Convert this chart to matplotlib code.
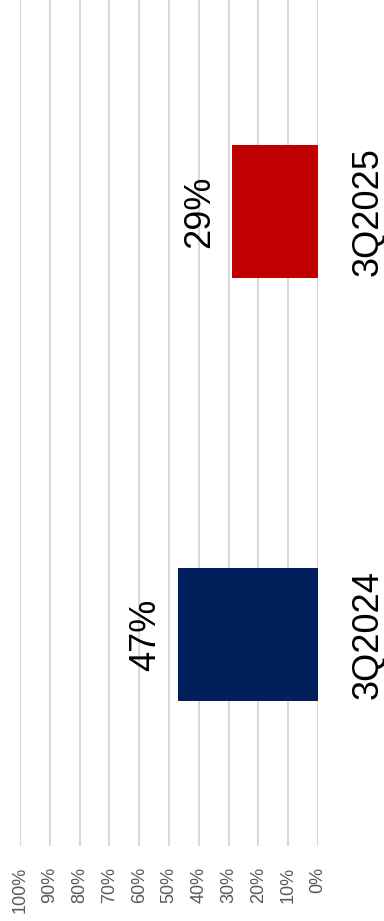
import matplotlib
matplotlib.use("Agg")
import matplotlib.pyplot as plt
import matplotlib.transforms as mtransforms

plt.rcParams['font.family'] = ['Liberation Sans', 'DejaVu Sans']

# quarterly share, drawn as a column chart turned on its side
quarters = ["3Q2024", "3Q2025"]
shares = [47, 29]
bar_colors = ["#001F5B", "#C00000"]
tick_values = [0, 10, 20, 30, 40, 50, 60, 70, 80, 90, 100]
tick_labels = [f"{t}%" for t in tick_values]

fig = plt.figure(figsize=(3.84, 9.21), dpi=100)
ax = fig.add_axes([20 / 384, 75 / 921, 298 / 384, 846 / 921])

pos = list(range(len(quarters)))
ax.barh(pos, shares, height=0.315, color=bar_colors, zorder=3)

ax.set_xlim(100, 0)
ax.set_ylim(-0.5, len(quarters) - 0.5)

ax.set_xticks(tick_values)
ax.set_xticklabels(tick_labels, rotation=90, fontsize=13, color="#595959")
ax.tick_params(axis="x", length=0, pad=15)
ax.set_yticks([])
ax.grid(axis="x", color="#d9d9d9", linewidth=1.5, zorder=0)
for s in ax.spines.values():
    s.set_visible(False)

# value labels just beyond the end of each bar
for p, v in zip(pos, shares):
    ax.annotate(f"{v}%", xy=(v, p), xytext=(-23, 0), textcoords="offset points",
                rotation=90, ha="center", va="center", fontsize=26, color="black")

# category names to the right of the zero line
trans = mtransforms.blended_transform_factory(ax.transAxes, ax.transData)
for p, q in zip(pos, quarters):
    ax.text(1.168, p, q, transform=trans, rotation=90, ha="center", va="center",
            fontsize=26, color="black")

fig.savefig("out.png", dpi=100)
